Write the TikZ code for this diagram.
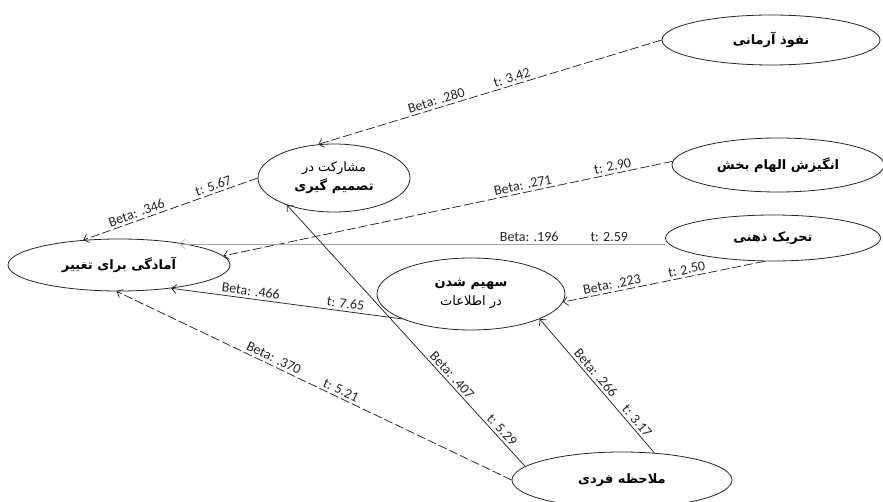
\documentclass[tikz,border=0pt]{standalone}
\usepackage{fontspec}
\setmainfont{Carlito}
\newfontfamily\fa[Script=Arabic]{DejaVu Sans}
\usetikzlibrary{arrows.meta,shapes.geometric}
\TeXXeTstate=1
\begin{document}
\begin{tikzpicture}[x=1pt,y=-1pt,
  latent/.style={ellipse, draw=black!85, line width=0.8pt, inner sep=0pt, align=center,
    font=\fa\bfseries\fontsize{13}{19}\selectfont},
  dashedline/.style={dash pattern=on 9pt off 3pt},
  conn/.style={draw=black!85, line width=0.75pt, -{Straight Barb[length=4.5pt,width=9pt]}},
  lab/.style={font=\fontsize{14}{14}\selectfont, sloped, above, inner sep=2.5pt, text=black!85}]
\useasboundingbox (0,0) rectangle (883,502);

\node[latent, minimum width=218pt, minimum height=50pt] (A) at (771,40) {\beginR نفوذ آرمانی\endR};
\node[latent, minimum width=212pt, minimum height=54pt] (B) at (778,165) {\beginR انگیزش الهام بخش\endR};
\node[latent, minimum width=215pt, minimum height=46pt] (C) at (773,238) {\beginR تحریک ذهنی\endR};
\node[latent, minimum width=152pt, minimum height=68pt] (D) at (334,178) {{\mdseries\beginR مشارکت در\endR}\\\beginR تصمیم گیری\endR};
\node[latent, minimum width=222pt, minimum height=52pt] (E) at (119,265) {\beginR آمادگی برای تغییر\endR};
\node[latent, minimum width=188pt, minimum height=72pt] (F) at (471,294) {\beginR سهیم شدن\endR\\{\mdseries\beginR در اطلاعات\endR}};
\node[latent, minimum width=220pt, minimum height=56pt] (G) at (622,480) {\beginR ملاحظه فردی\endR};

\draw[conn, dashedline] (A.west) -- (D.115)
  node[lab, pos=0.65]{Beta: .280} node[lab, pos=0.43]{t: 3.42};
\draw[conn, dashedline] (D.west) -- (E.145)
  node[lab, pos=0.68]{Beta: .346} node[lab, pos=0.24]{t: 5.67};
\draw[conn, dashedline] (B.178) -- (E.5)
  node[lab, pos=0.33]{Beta: .271} node[lab, pos=0.13]{t: 2.90};
\draw[conn, draw=black!35, line width=0.6pt] (C.west |- 0,244) -- (E.20 |- 0,244)
  node[lab, pos=0.28]{Beta: .196} node[lab, pos=0.115]{t: 2.59};
\draw[conn, dashedline] (C.250) -- (F.355)
  node[lab, pos=0.75]{Beta: .223} node[lab, pos=0.38]{t: 2.50};
\draw[conn] (F.200) -- (E.336)
  node[lab, pos=0.66]{Beta: .466} node[lab, pos=0.25]{t: 7.65};
\draw[conn, dashedline] (G.west) -- (E.265)
  node[lab, pos=0.61]{Beta: .370} node[lab, pos=0.44]{t: 5.21};
\draw[conn] (G.172) -- (D.210)
  node[lab, pos=0.33]{Beta: .407} node[lab, pos=0.12]{t: 5.29};
\draw[conn] (G.40) -- (F.340)
  node[lab, pos=0.56]{Beta: .266} node[lab, pos=0.2]{t: 3.17};
\end{tikzpicture}
\end{document}
